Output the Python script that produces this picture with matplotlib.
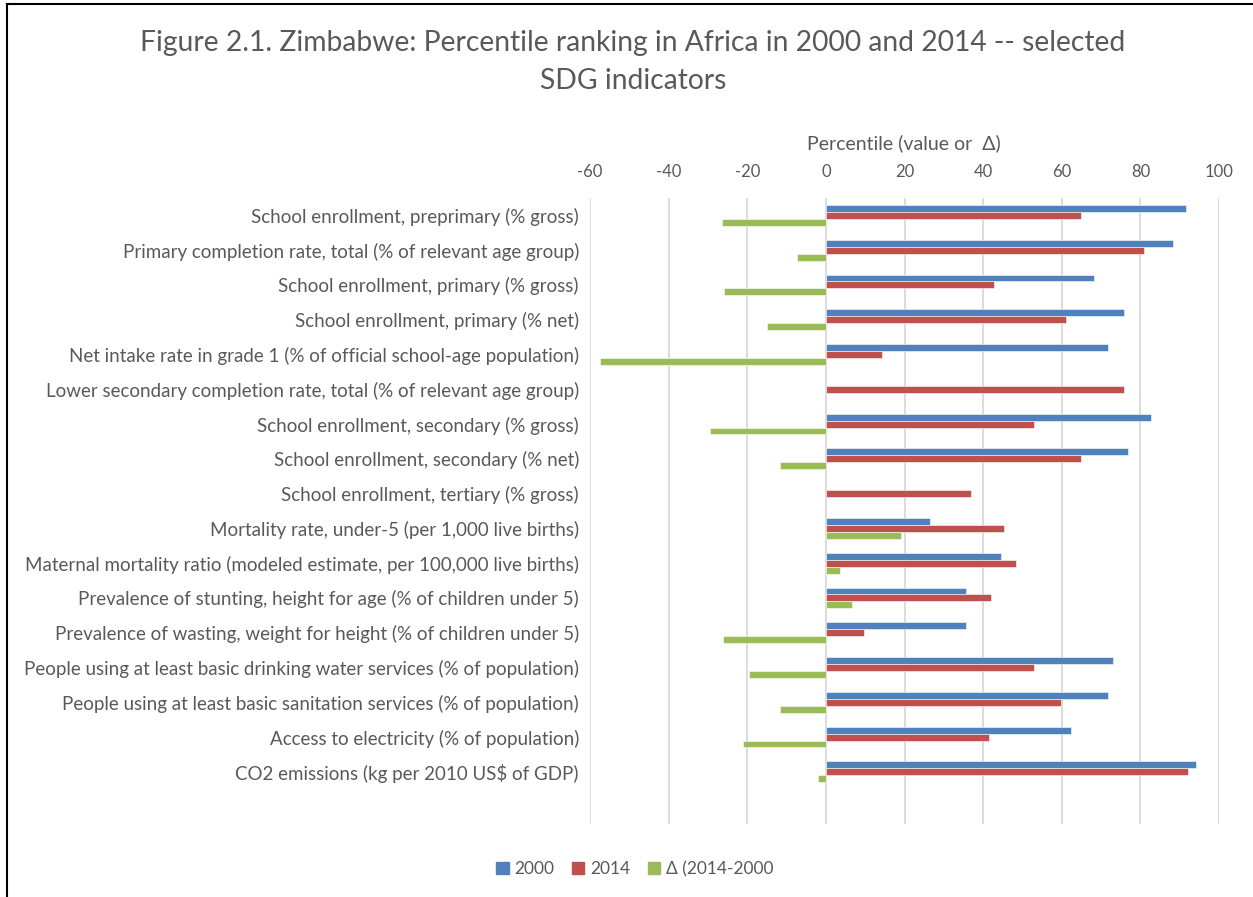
import numpy as np
from matplotlib import pyplot as plt
from matplotlib.patches import Patch

"""
Zimbabwe percentile ranking in Africa, 2000 vs 2014, selected SDG indicators
"""

indicators = [
    "School enrollment, preprimary (% gross)",
    "Primary completion rate, total (% of relevant age group)",
    "School enrollment, primary (% gross)",
    "School enrollment, primary (% net)",
    "Net intake rate in grade 1 (% of official school-age population)",
    "Lower secondary completion rate, total (% of relevant age group)",
    "School enrollment, secondary (% gross)",
    "School enrollment, secondary (% net)",
    "School enrollment, tertiary (% gross)",
    "Mortality rate, under-5 (per 1,000 live births)",
    "Maternal mortality ratio (modeled estimate, per 100,000 live births)",
    "Prevalence of stunting, height for age (% of children under 5)",
    "Prevalence of wasting, weight for height (% of children under 5)",
    "People using at least basic drinking water services (% of population)",
    "People using at least basic sanitation services (% of population)",
    "Access to electricity (% of population)",
    "CO2 emissions (kg per 2010 US$ of GDP)",
]

nan = np.nan
pct_2000 = [91.6, 88.3, 68.2, 75.9, 71.7, nan, 82.8, 76.8, nan,
            26.6, 44.5, 35.6, 35.6, 73.0, 71.7, 62.3, 94.2]
pct_2014 = [64.8, 81.0, 42.8, 61.1, 14.3, 75.9, 53.0, 64.8, 36.8,
            45.3, 48.4, 41.9, 9.6, 53.0, 59.8, 41.5, 92.1]
delta = [-26.5, -7.4, -25.8, -15.0, -57.5, nan, -29.5, -11.6, nan,
         19.0, 3.6, 6.6, -26.1, -19.6, -11.6, -21.0, -1.9]

series_names = ["2000", "2014", "\u0394 (2014-2000"]
x_ticks = [-60, -40, -20, 0, 20, 40, 60, 80, 100]

BLUE = "#4F81BD"
RED = "#C0504D"
GREEN = "#9BBB59"
GREY = "#595959"

W, H = 1253, 897


def plot_chart():
    plt.rcParams['font.family'] = ['Lato', 'DejaVu Sans']
    plt.rcParams['axes.unicode_minus'] = False
    fig = plt.figure(figsize=(W / 100, H / 100), dpi=100)

    # plot area in pixels: x 590..1219, y 198..824
    ax = fig.add_axes([590 / W, 1 - 824 / H, 629 / W, 626 / H])

    y = np.arange(len(indicators))
    bh = 0.2
    colors = [BLUE, RED, GREEN]
    for i, vals in enumerate([pct_2000, pct_2014, delta]):
        ax.barh(y + (i - 1) * bh, np.array(vals, dtype=float), height=bh,
                color=colors[i], edgecolor='white', linewidth=0.4, zorder=3)

    ax.set_xlim(-60, 100)
    ax.set_ylim(len(indicators) + 0.5, -0.5)
    ax.set_xticks(x_ticks)
    ax.xaxis.tick_top()
    ax.tick_params(axis='x', length=0, pad=13, labelsize=12, labelcolor=GREY)
    ax.set_yticks(y)
    ax.set_yticklabels(indicators)
    ax.tick_params(axis='y', length=0, pad=8, labelsize=13.5, labelcolor=GREY)
    ax.grid(axis='x', color='#d9d9d9', linewidth=1.3, zorder=0)
    for s in ax.spines.values():
        s.set_visible(False)

    fig.text(904 / W, 1 - 143 / H, "Percentile (value or  \u0394)", ha='center',
             va='center', fontsize=14, color=GREY)
    fig.text(633 / W, 1 - 62 / H,
             "Figure 2.1. Zimbabwe: Percentile ranking in Africa in 2000 and 2014 -- selected\nSDG indicators",
             ha='center', va='center', fontsize=20.3, color=GREY, linespacing=1.55)

    handles = [Patch(color=c, label=n) for c, n in zip(colors, series_names)]
    fig.legend(handles=handles, loc='center', bbox_to_anchor=(635 / W, 1 - 869 / H),
               ncol=3, frameon=False, fontsize=12.5, handlelength=0.7, handleheight=0.7,
               handletextpad=0.35, columnspacing=1.0, labelcolor=GREY)

    # chart border (top and left edges visible in the crop)
    fig.add_artist(plt.Line2D([7 / W, 7 / W], [0, 1 - 4 / H], color='black', linewidth=1.5))
    fig.add_artist(plt.Line2D([7 / W, 1], [1 - 4 / H, 1 - 4 / H], color='black', linewidth=1.5))

    fig.savefig("out.png", dpi=100)


if __name__ == "__main__":
    plot_chart()
